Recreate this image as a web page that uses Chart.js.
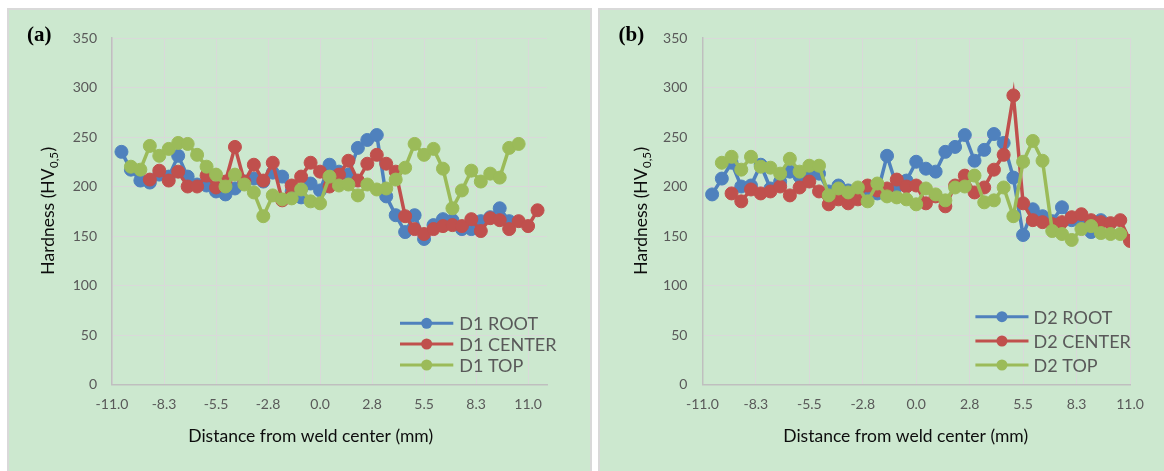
<!DOCTYPE html>
<html lang="en">
<head>
<meta charset="UTF-8">
<title>Hardness profiles D1 / D2</title>
<style>
  html,body{margin:0;padding:0;background:#fff;overflow:hidden;}
  body{width:1164px;height:471px;position:relative;}
  .panel{position:absolute;top:8px;height:482px;background:#cce8cf;border:2px solid #d9d9d9;box-sizing:border-box;}
  #panelA{left:7px;width:585px;}
  #panelB{left:598px;width:584px;}
  .panel canvas{position:absolute;left:0;top:0;}
</style>
</head>
<body>
<div class="panel" id="panelA"><canvas id="chartA" width="581" height="470"></canvas></div>
<div class="panel" id="panelB"><canvas id="chartB" width="580" height="470"></canvas></div>
<script src="https://cdn.jsdelivr.net/npm/chart.js"></script>
<script>
// measuring positions (mm from weld center)
const distanceMm = [-10.5, -10, -9.5, -9, -8.5, -8, -7.5, -7, -6.5, -6, -5.5, -5, -4.5, -4, -3.5, -3, -2.5, -2, -1.5, -1,
  -0.5, 0, 0.5, 1, 1.5, 2, 2.5, 3, 3.5, 4, 4.5, 5, 5.5, 6, 6.5, 7, 7.5, 8, 8.5, 9, 9.5, 10, 10.5, 11, 11.5];

const xTickValues = [-11, -8.25, -5.5, -2.75, 0, 2.75, 5.5, 8.25, 11];
const xTickLabels = ['-11.0', '-8.3', '-5.5', '-2.8', '0.0', '2.8', '5.5', '8.3', '11.0'];
const yTickValues = [0, 50, 100, 150, 200, 250, 300, 350];

// panel (a)
const d1Root = [235, 217, 206, 204, 212, 210, 231, 210, 202, 201, 195, 192, 198, 205, 208, 205, 214, 210, 195, 189,
  203, 196, 222, 215, 212, 239, 247, 252, 190, 171, 154, 171, 147, 161, 167, 166, 157, 157, 165, 169, 178, 165, null, null, null];
const d1Center = [null, null, null, 207, 216, 206, 215, 200, 200, 211, 199, 205, 240, 205, 222, 206, 224, 186, 201, 210,
  224, 215, 200, 212, 226, 206, 223, 232, 223, 215, 170, 157, 152, 157, 160, 161, 160, 167, 155, 168, 166, 157, 165, 160, 176];
const d1Top = [null, 220, 217, 241, 231, 238, 244, 243, 232, 220, 212, 200, 212, 202, 194, 170, 191, 187, 188, 197,
  185, 183, 210, 201, 202, 191, 202, 197, 198, 207, 219, 243, 232, 238, 218, 178, 196, 216, 205, 213, 209, 239, 243, null, null];

// panel (b)
const d2Root = [192, 208, 224, 200, 201, 222, 198, 205, 215, 210, 216, 213, 195, 201, 196, 195, 197, 193, 231, 200,
  206, 225, 218, 215, 235, 240, 252, 226, 237, 253, 244, 209, 151, 177, 170, 165, 179, 166, 164, 154, 166, null, null, null, null];
const d2Center = [null, null, 193, 185, 197, 193, 195, 200, 191, 199, 205, 195, 182, 187, 183, 187, 201, 196, 198, 207,
  200, 201, 183, 190, 180, 201, 211, 194, 199, 217, 232, 292, 183, 166, 164, 162, 164, 169, 172, 166, 164, 163, 166, 145, null];
const d2Top = [null, 224, 230, 217, 230, 220, 219, 213, 228, 215, 221, 221, 191, 198, 194, 199, 185, 203, 190, 189,
  187, 182, 198, 192, 186, 199, 200, 211, 184, 186, 199, 170, 225, 246, 226, 155, 152, 146, 157, 160, 153, 152, 152, null, null];

const BLUE = '#4f81bd', RED = '#c0504d', GREEN = '#9bbb59';
const FONT = 'Lato';

function toPoints(values) {
  const pts = [];
  distanceMm.forEach((d, i) => { if (values[i] !== null) pts.push({x: d, y: values[i]}); });
  return pts;
}

function ds(label, values, color, order) {
  return {
    label: label, data: toPoints(values), order: order,
    borderColor: color, backgroundColor: color,
    pointBackgroundColor: color, pointBorderColor: color,
    borderWidth: 3.5, pointRadius: 6.5, pointBorderWidth: 1, tension: 0
  };
}

// titles, panel letter and the excel-like legend inside the plot
const panelDecor = {
  id: 'panelDecor',
  afterDraw(chart, args, o) {
    const ctx = chart.ctx, area = chart.chartArea;
    ctx.save();
    ctx.fillStyle = '#000';
    ctx.textBaseline = 'middle';
    ctx.textAlign = 'left';
    ctx.font = 'bold 21px "Liberation Serif"';
    ctx.fillText(o.letter, o.letterX, o.letterY);

    ctx.font = '17.5px ' + FONT;
    ctx.textAlign = 'center';
    ctx.fillStyle = '#0d0d0d';
    ctx.fillText(o.xTitle, o.xTitleX, o.xTitleY);

    // y title with subscript
    ctx.save();
    ctx.translate(o.yTitleX, (area.top + area.bottom) / 2);
    ctx.rotate(-Math.PI / 2);
    ctx.textAlign = 'left';
    ctx.textBaseline = 'alphabetic';
    ctx.font = '17.5px ' + FONT;
    const w1 = ctx.measureText(o.yTitle[0]).width, w3 = ctx.measureText(o.yTitle[2]).width;
    ctx.font = '11.5px ' + FONT;
    const w2 = ctx.measureText(o.yTitle[1]).width;
    let x = -(w1 + w2 + w3) / 2;
    ctx.font = '17.5px ' + FONT;
    ctx.fillText(o.yTitle[0], x, 0);
    ctx.font = '11.5px ' + FONT;
    ctx.fillText(o.yTitle[1], x + w1 + 0.5, 4);
    ctx.font = '17.5px ' + FONT;
    ctx.fillText(o.yTitle[2], x + w1 + w2 + 1, 0);
    ctx.restore();

    // legend
    ctx.font = '18px ' + FONT;
    ctx.textAlign = 'left';
    ctx.textBaseline = 'middle';
    chart.data.datasets.forEach((d, i) => {
      const y = o.legendRows[i];
      ctx.strokeStyle = d.borderColor;
      ctx.lineWidth = 3;
      ctx.beginPath();
      ctx.moveTo(o.legendX0, y);
      ctx.lineTo(o.legendX1, y);
      ctx.stroke();
      ctx.fillStyle = d.borderColor;
      ctx.beginPath();
      ctx.arc((o.legendX0 + o.legendX1) / 2, y, 5.5, 0, Math.PI * 2);
      ctx.fill();
      ctx.fillStyle = '#595959';
      ctx.fillText(d.label, o.legendTextX, y + 1);
    });
    ctx.restore();
  }
};

function makeChart(id, series, xMax, pad, decor) {
  return new Chart(document.getElementById(id), {
    type: 'line',
    data: {datasets: series},
    options: {
      responsive: false, animation: false, events: [],
      layout: {padding: {left: 0, top: pad.top, right: pad.right, bottom: pad.bottom}},
      plugins: {legend: {display: false}, tooltip: {enabled: false}, panelDecor: decor},
      scales: {
        x: {
          type: 'linear', min: -11, max: xMax,
          afterBuildTicks: (s) => { s.ticks = xTickValues.map(v => ({value: v})); },
          afterFit: (s) => { s.height = pad.xAxisH; },
          ticks: {autoSkip: false, maxRotation: 0, padding: 12, color: '#595959',
            font: {family: FONT, size: 14}, callback: (v, i) => xTickLabels[i]},
          grid: {color: '#d9d9d9', lineWidth: 1, drawTicks: false},
          border: {color: '#bfbfbf', width: 1.5}
        },
        y: {
          min: 0, max: 350,
          afterBuildTicks: (s) => { s.ticks = yTickValues.map(v => ({value: v})); },
          afterFit: (s) => { s.width = pad.yAxisW; },
          ticks: {padding: 15, color: '#595959', font: {family: FONT, size: 14}},
          grid: {color: '#d9d9d9', lineWidth: 1, drawTicks: false},
          border: {color: '#bfbfbf', width: 1.5}
        }
      }
    },
    plugins: [panelDecor]
  });
}

const yTitle = ['Hardness (HV', '0,5', ')'];
const xTitle = 'Distance from weld center (mm)';

makeChart('chartA', [
  ds('D1 ROOT', d1Root, BLUE, 3),
  ds('D1 CENTER', d1Center, RED, 2),
  ds('D1 TOP', d1Top, GREEN, 1)
], 12, {top: 28, right: 43, bottom: 35.5, xAxisH: 60, yAxisW: 103}, {
  letter: '(a)', letterX: 18, letterY: 26, xTitle: xTitle, xTitleX: 301.7, xTitleY: 426.7,
  yTitle: yTitle, yTitleX: 45,
  legendX0: 391, legendX1: 444.3, legendTextX: 450.3, legendRows: [313.3, 334, 355]
});

makeChart('chartB', [
  ds('D2 ROOT', d2Root, BLUE, 3),
  ds('D2 CENTER', d2Center, RED, 2),
  ds('D2 TOP', d2Top, GREEN, 1)
], 11, {top: 28, right: 50, bottom: 35.5, xAxisH: 60, yAxisW: 102.4}, {
  letter: '(b)', letterX: 18.5, letterY: 26, xTitle: xTitle, xTitleX: 305.7, xTitleY: 426.7,
  yTitle: yTitle, yTitleX: 46.5,
  legendX0: 375.4, legendX1: 428.5, legendTextX: 433.6, legendRows: [306.7, 331, 355]
});
</script>
</body>
</html>
